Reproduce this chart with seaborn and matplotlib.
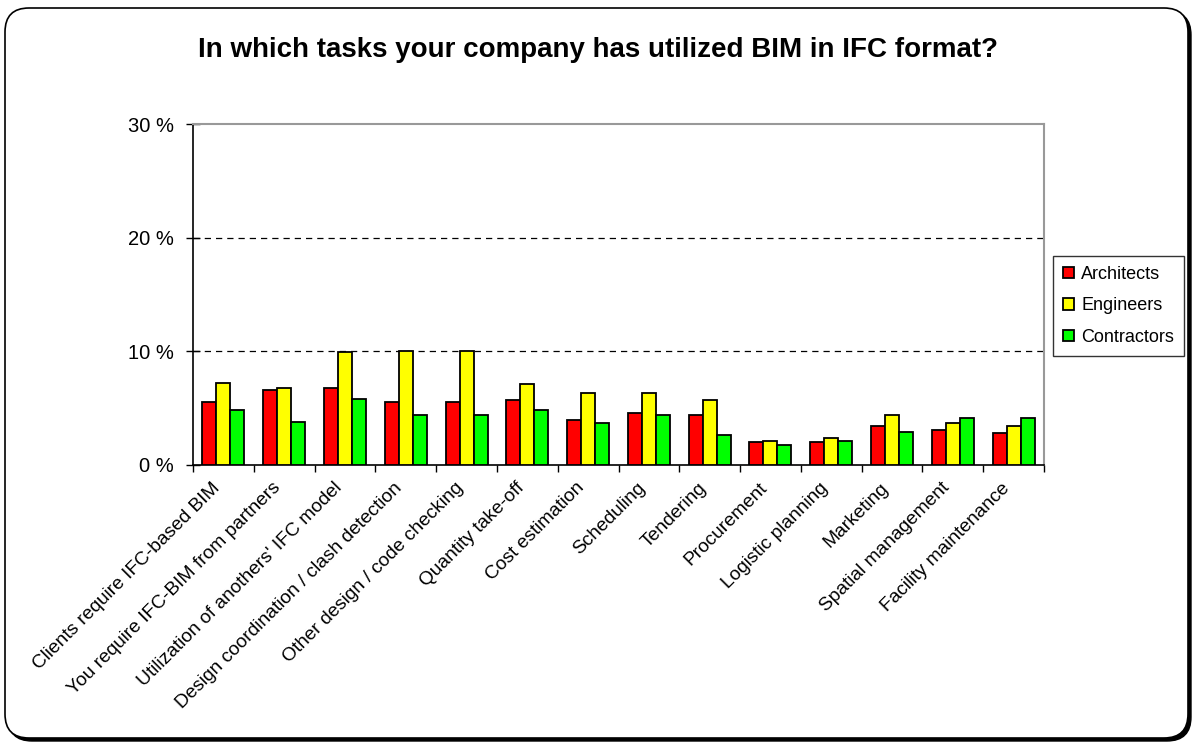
import matplotlib
matplotlib.use("Agg")
import matplotlib.pyplot as plt
from matplotlib.patches import FancyBboxPatch
from matplotlib.transforms import IdentityTransform
import seaborn as sns
import pandas as pd
import numpy as np

categories = [
    "Clients require IFC-based BIM",
    "You require IFC-BIM from partners",
    "Utilization of anothers' IFC model",
    "Design coordination / clash detection",
    "Other design / code checking",
    "Quantity take-off",
    "Cost estimation",
    "Scheduling",
    "Tendering",
    "Procurement",
    "Logistic planning",
    "Marketing",
    "Spatial management",
    "Facility maintenance",
]
architects = [5.5, 6.6, 6.8, 5.5, 5.5, 5.7, 4.0, 4.6, 4.4, 2.0, 2.0, 3.4, 3.1, 2.8]
engineers = [7.2, 6.8, 9.9, 10.0, 10.0, 7.1, 6.3, 6.3, 5.7, 2.1, 2.4, 4.4, 3.7, 3.4]
contractors = [4.8, 3.8, 5.8, 4.4, 4.4, 4.8, 3.7, 4.4, 2.6, 1.8, 2.1, 2.9, 4.1, 4.1]
groups = ["Architects", "Engineers", "Contractors"]
colors = ["#ff0000", "#ffff00", "#00ff00"]

df = pd.DataFrame({
    "task": categories * 3,
    "value": architects + engineers + contractors,
    "group": [g for g in groups for _ in categories],
})

sns.set_style("white")
plt.rcParams["font.family"] = ["Liberation Sans", "DejaVu Sans"]
plt.rcParams["text.color"] = "black"
plt.rcParams["xtick.color"] = "black"
plt.rcParams["ytick.color"] = "black"

fig = plt.figure(figsize=(11.96, 7.42), dpi=100)

# rounded frame with drop shadow, in pixels
shadow = FancyBboxPatch((8, 1), 1183, 730, boxstyle="round,pad=0,rounding_size=24",
                        transform=IdentityTransform(), facecolor="black", edgecolor="black", zorder=-10)
frame = FancyBboxPatch((5, 4), 1183, 730, boxstyle="round,pad=0,rounding_size=24",
                       transform=IdentityTransform(), facecolor="white", edgecolor="black",
                       linewidth=1.2, zorder=-9)
fig.patches.extend([shadow, frame])

L, R, T, B = 193, 1044, 124, 465
ax = fig.add_axes([L / 1196, 1 - B / 742, (R - L) / 1196, (B - T) / 742])
ax.set_facecolor("none")
ax.set_zorder(5)

sns.barplot(data=df, x="task", y="value", hue="group", palette=colors, width=0.69,
            edgecolor="black", linewidth=1.3, saturation=1, ax=ax, zorder=3)

ax.set_ylim(0, 30)
ax.set_xlim(-0.5, len(categories) - 0.5)
ax.set_yticks([0, 10, 20, 30])
ax.set_yticklabels(["0 %", "10 %", "20 %", "30 %"], fontsize=14.5)
for y in [10, 20]:
    ax.axhline(y, color="black", linestyle=(0, (5, 4)), linewidth=0.9, zorder=1)

ax.set_xticks(np.arange(len(categories)))
ax.set_xticklabels(categories, rotation=45, ha="right", va="bottom",
                   rotation_mode="anchor", fontsize=13.8)
ax.tick_params(axis="x", length=0, pad=19)
ax.set_xticks(np.arange(len(categories) + 1) - 0.5, minor=True)
ax.tick_params(axis="x", which="minor", length=5, width=1, color="black", direction="out", bottom=True)
ax.tick_params(axis="y", length=10, width=1, color="black", direction="inout", left=True, pad=9)
ax.set_xlabel("")
ax.set_ylabel("")

for side in ["left", "bottom"]:
    ax.spines[side].set_color("black")
    ax.spines[side].set_linewidth(1.2)
for side in ["top", "right"]:
    ax.spines[side].set_color("#999999")
    ax.spines[side].set_linewidth(1.5)

leg = ax.legend(loc="upper left", bbox_to_anchor=(1.0106, 0.613), frameon=True, fontsize=13,
                handlelength=0.6, handleheight=0.6, handletextpad=0.4, labelspacing=0.8,
                borderpad=0.55, borderaxespad=0, fancybox=False)
leg.get_frame().set_edgecolor("black")
leg.get_frame().set_linewidth(1.0)

fig.text(0.5, 1 - 50 / 742, "In which tasks your company has utilized BIM in IFC format?",
         ha="center", va="center", fontsize=20, fontweight="bold")

fig.savefig("out.png", dpi=100)
